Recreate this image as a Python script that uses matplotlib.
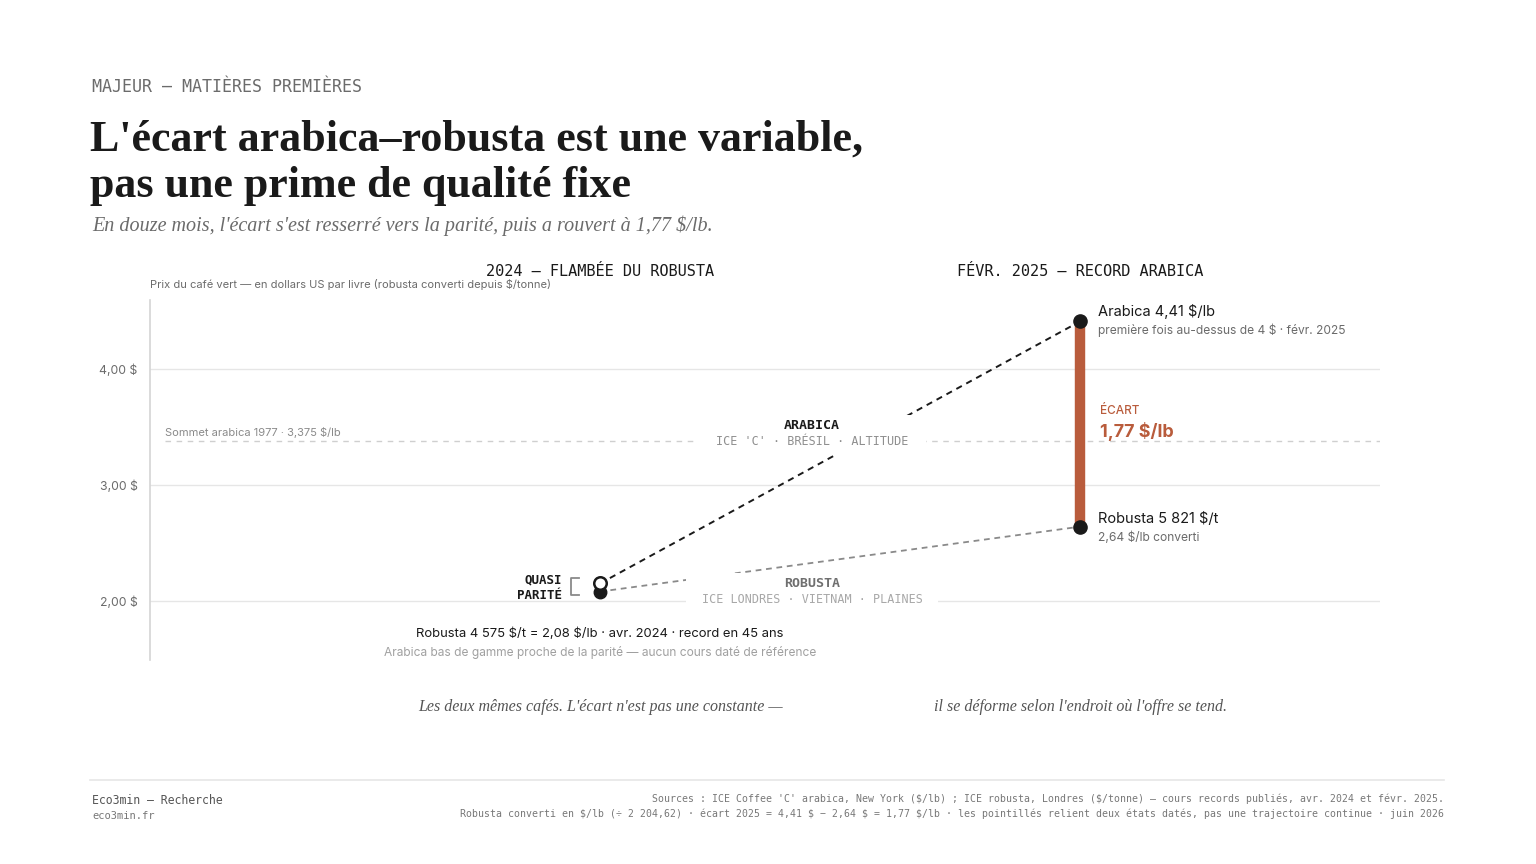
import matplotlib.pyplot as plt
from matplotlib.patches import Rectangle

plt.rcParams['text.parse_math'] = False

W, H = 1536, 864

# data (prix en $/lb)
periods = ['avr. 2024', 'févr. 2025']
arabica = [2.15, 4.41]      # 2024 : pas de cours daté, proche de la parité
robusta = [2.08, 2.64]      # converti depuis $/tonne
robusta_t = [4575, 5821]
sommet_1977 = 3.375
ecart_2025 = arabica[1] - robusta[1]
yticks = [2.0, 3.0, 4.0]
ytick_labels = ['2,00 $', '3,00 $', '4,00 $']

DARK = '#1a1a1a'
GREY = '#6b6b6b'
ORANGE = '#b95c3c'
SANS = 'Inter'
MONO = 'DejaVu Sans Mono'
SERIF = 'Liberation Serif'


def fx(px):
    return px / W


def fy(py):
    return 1 - py / H


fig = plt.figure(figsize=(W / 100, H / 100), dpi=100)
fig.patch.set_facecolor('white')

# header
fig.text(fx(92), fy(87), 'MAJEUR — MATIÈRES PREMIÈRES', family=MONO, fontsize=12,
         color=GREY, va='center')
fig.text(fx(90), fy(151), "L'écart arabica–robusta est une variable,", family=SERIF,
         fontweight='bold', fontsize=31.7, color=DARK, va='baseline')
fig.text(fx(90), fy(197), 'pas une prime de qualité fixe', family=SERIF,
         fontweight='bold', fontsize=31.7, color=DARK, va='baseline')
fig.text(fx(92), fy(231), "En douze mois, l'écart s'est resserré vers la parité, puis a rouvert à 1,77 $/lb.",
         family=SERIF, style='italic', fontsize=14.5, color=GREY, va='baseline')

# axes: x=0 -> 600 px, x=1 -> 1080 px
ax = fig.add_axes([fx(150), fy(660), (1380 - 150) / W, (660 - 300) / H])
ax.set_xlim(-450 / 480, 1 + 300 / 480)
ax.set_ylim(1.49, 4.595)
ax.set_facecolor('none')
for s in ['top', 'right', 'bottom']:
    ax.spines[s].set_visible(False)
ax.spines['left'].set_color('#d4d4d4')
ax.spines['left'].set_linewidth(1.2)
ax.set_xticks([])
ax.set_yticks(yticks)
ax.set_yticklabels(ytick_labels, family=SANS, fontsize=8.8, color=GREY)
ax.tick_params(axis='y', length=0, pad=9)
ax.grid(axis='y', color='#e6e6e6', lw=1, zorder=0)
ax.set_axisbelow(True)

# sommet 1977
ax.plot([-435 / 480, ax.get_xlim()[1]], [sommet_1977] * 2, color='#cfcfcf', lw=1,
        dashes=(4, 4), zorder=1)
ax.text(-435 / 480, sommet_1977 + 0.03, 'Sommet arabica 1977 · 3,375 $/lb', family=SANS,
        fontsize=8, color='#8a8a8a', va='bottom')

# trajets entre les deux états datés
ax.plot(range(2), arabica, color=DARK, lw=1.4, dashes=(3.2, 2.6), zorder=2)
ax.plot(range(2), robusta, color='#8a8a8a', lw=1.3, dashes=(3.2, 2.6), zorder=2)

# étiquettes de séries, masquées derrière un fond blanc
lab_x = 0.442
ax.add_patch(Rectangle((0.204, 3.259), 0.475, 0.344, facecolor='white',
                       edgecolor='none', zorder=3))
ax.add_patch(Rectangle((0.179, 1.914), 0.525, 0.327, facecolor='white',
                       edgecolor='none', zorder=3))
ax.text(lab_x, sommet_1977 + 0.138, 'ARABICA', family=MONO, fontweight='bold',
        fontsize=9.5, color=DARK, ha='center', va='center', zorder=4)
ax.text(lab_x, sommet_1977, "ICE 'C' · BRÉSIL · ALTITUDE", family=MONO, fontsize=8.5,
        color='#8f8f8f', ha='center', va='center', zorder=4)
ax.text(lab_x, yticks[0] + 0.147, 'ROBUSTA', family=MONO, fontweight='bold',
        fontsize=9.5, color='#6f6f6f', ha='center', va='center', zorder=4)
ax.text(lab_x, yticks[0] + 0.008, 'ICE LONDRES · VIETNAM · PLAINES', family=MONO,
        fontsize=8.5, color='#a8a8a8', ha='center', va='center', zorder=4)

# écart 2025
ax.plot([1, 1], [robusta[1], arabica[1]], color=ORANGE, lw=7.5,
        solid_capstyle='butt', zorder=5)
ax.plot([1, 1], [robusta[1], arabica[1]], 'o', color=DARK, ms=9.5, zorder=6)

# 2024 : quasi parité
ax.plot(0, robusta[0], 'o', color=DARK, ms=9, zorder=6)
ax.plot(0, arabica[0], 'o', mfc='white', mec=DARK, mew=1.8, ms=9, zorder=7)
bx0, bx1 = -29 / 480, -21 / 480
by0, by1 = robusta[0] - 0.03, arabica[0] + 0.045
ax.plot([bx1, bx0, bx0, bx1], [by1, by1, by0, by0], color='#8a8a8a', lw=1.3, zorder=4)
ax.text(-38 / 480, (arabica[0] + robusta[0]) / 2, 'QUASI\nPARITÉ', family=MONO,
        fontweight='bold', fontsize=9, color=DARK, ha='right', va='center',
        linespacing=1.25, zorder=4)

# annotations 2025
ax.text(1 + 18 / 480, arabica[1] + 0.09, 'Arabica 4,41 $/lb', family=SANS, fontsize=10.5,
        color=DARK, va='center')
ax.text(1 + 18 / 480, arabica[1] - 0.075, 'première fois au-dessus de 4 $ · févr. 2025',
        family=SANS, fontsize=8.65, color=GREY, va='center')
ax.text(1 + 20 / 480, 3.638, 'ÉCART', family=SANS, fontsize=8.5, color=ORANGE,
        va='center', fontweight='medium')
ax.text(1 + 20 / 480, 3.457, f'{ecart_2025:.2f} $/lb'.replace('.', ','), family=SANS,
        fontsize=13, color=ORANGE, fontweight='bold', va='center')
ax.text(1 + 18 / 480, robusta[1] + 0.07, f'Robusta {robusta_t[1]:,} $/t'.replace(',', ' '),
        family=SANS, fontsize=10.5, color=DARK, va='center')
ax.text(1 + 18 / 480, robusta[1] - 0.095, '2,64 $/lb converti', family=SANS, fontsize=8.7,
        color=GREY, va='center')

# annotations 2024
ax.text(0, 1.72, f'Robusta {robusta_t[0]:,} $/t'.replace(',', ' ')
        + ' = 2,08 $/lb · avr. 2024 · record en 45 ans',
        family=SANS, fontsize=9.4, color=DARK, ha='center', va='center')
ax.text(0, 1.555, 'Arabica bas de gamme proche de la parité — aucun cours daté de référence',
        family=SANS, fontsize=8.6, color='#a0a0a0', ha='center', va='center')

# en-têtes des deux états
fig.text(fx(600), fy(271), '2024 — FLAMBÉE DU ROBUSTA', family=MONO, fontsize=11,
         color=DARK, ha='center', va='center')
fig.text(fx(1080), fy(271), 'FÉVR. 2025 — RECORD ARABICA', family=MONO, fontsize=11,
         color=DARK, ha='center', va='center')
fig.text(fx(150), fy(284), 'Prix du café vert — en dollars US par livre (robusta converti depuis $/tonne)',
         family=SANS, fontsize=8, color=GREY, va='center')

# conclusion
fig.text(fx(600), fy(707), "Les deux mêmes cafés. L'écart n'est pas une constante —",
         family=SERIF, style='italic', fontsize=11.5, color='#555555', ha='center', va='center')
fig.text(fx(1080), fy(707), "il se déforme selon l'endroit où l'offre se tend.",
         family=SERIF, style='italic', fontsize=11.5, color='#555555', ha='center', va='center')

# pied de page
fig.add_artist(plt.Line2D([fx(90), fx(1444)], [fy(780), fy(780)], color='#e6e6e6', lw=1.2))
fig.text(fx(92), fy(800), 'Eco3min — Recherche', family=MONO, fontsize=8.3, color='#555555',
         va='center')
fig.text(fx(92), fy(816), 'eco3min.fr', family=MONO, fontsize=7.5, color='#777777', va='center')
fig.text(fx(1444), fy(799),
         "Sources : ICE Coffee 'C' arabica, New York ($/lb) ; ICE robusta, Londres ($/tonne) — "
         "cours records publiés, avr. 2024 et févr. 2025.",
         family=MONO, fontsize=7.15, color='#777777', ha='right', va='center')
fig.text(fx(1444), fy(814),
         'Robusta converti en $/lb (÷ 2 204,62) · écart 2025 = 4,41 $ − 2,64 $ = 1,77 $/lb · '
         'les pointillés relient deux états datés, pas une trajectoire continue · juin 2026',
         family=MONO, fontsize=7.15, color='#777777', ha='right', va='center')

fig.savefig('out.png', dpi=100)
